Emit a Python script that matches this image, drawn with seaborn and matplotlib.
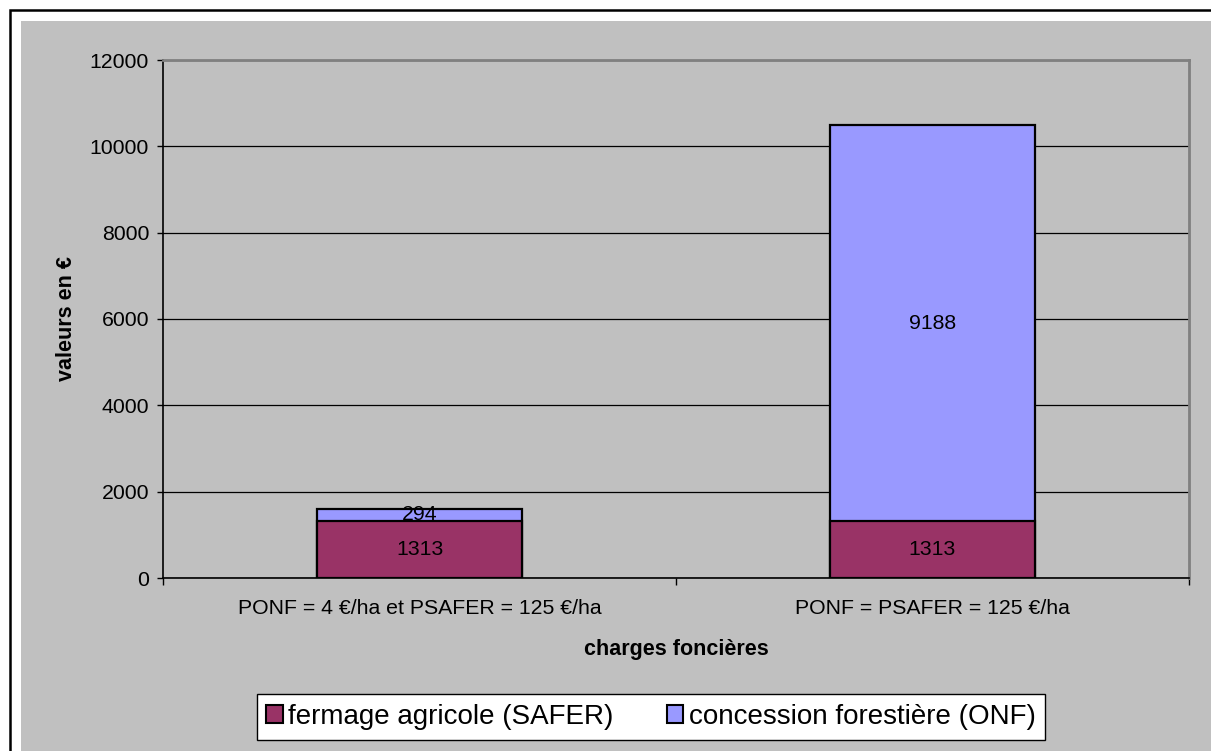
import numpy as np
import pandas as pd
import matplotlib
matplotlib.use("Agg")
import matplotlib.pyplot as plt
import seaborn as sns
from matplotlib.patches import Patch, Rectangle
from matplotlib.ticker import FixedLocator

# donnees
categories = ["PONF = 4 €/ha et PSAFER = 125 €/ha", "PONF = PSAFER = 125 €/ha"]
fermage = [1313, 1313]
concession = [294, 9188]
series_names = ["fermage agricole (SAFER)", "concession forestière (ONF)"]
colors = ["#993366", "#9999FF"]

df = pd.DataFrame({"cat": categories, "fermage": fermage, "concession": concession})
df["total"] = df["fermage"] + df["concession"]

sns.set_style("white")
plt.rcParams["font.family"] = ["Liberation Sans", "DejaVu Sans"]
plt.rcParams["text.color"] = "black"
plt.rcParams["axes.labelcolor"] = "black"
plt.rcParams["xtick.color"] = "black"
plt.rcParams["ytick.color"] = "black"

fig = plt.figure(figsize=(12.11, 7.51), dpi=100)
fig.patch.set_facecolor("white")
W, H = 1211, 751
# cadre noir + fond gris
fig.patches.append(Rectangle((21 / W, 0), 1 - 21 / W, 1 - 21 / H, transform=fig.transFigure,
                             facecolor="#C0C0C0", edgecolor="none", zorder=-10))
fig.patches.append(Rectangle((10 / W, -0.1), 1.2, 1.1 - 10 / H, transform=fig.transFigure,
                             facecolor="none", edgecolor="black", linewidth=1.8, zorder=-9))

ax = fig.add_axes([163 / W, (H - 578) / H, (1189 - 163) / W, (578 - 60) / H])
ax.set_facecolor("#C0C0C0")

sns.barplot(data=df, x="cat", y="total", color=colors[1], edgecolor="black",
            linewidth=1.6, width=0.4, saturation=1, ax=ax, zorder=3)
sns.barplot(data=df, x="cat", y="fermage", color=colors[0], edgecolor="black",
            linewidth=1.6, width=0.4, saturation=1, ax=ax, zorder=4)

for i, row in df.iterrows():
    ax.text(i, row["fermage"] / 2, str(row["fermage"]), ha="center", va="center",
            fontsize=15.3, zorder=5)
    ax.text(i, row["fermage"] + row["concession"] / 2, str(row["concession"]),
            ha="center", va="center", fontsize=15.3, zorder=5)

ax.set_ylim(0, 12000)
ax.set_xlim(-0.5, 1.5)
ax.set_yticks(np.arange(0, 12001, 2000))
ax.yaxis.grid(True, color="black", linewidth=0.9)
ax.set_axisbelow(True)
ax.tick_params(axis="y", length=4, width=1, color="black", pad=6, labelsize=15.3, left=True)
ax.tick_params(axis="x", which="major", length=0, pad=15, labelsize=15.3)
ax.xaxis.set_minor_locator(FixedLocator([-0.5, 0.5, 1.5]))
ax.tick_params(axis="x", which="minor", length=5, width=1, color="black", bottom=True)

for side in ["left", "bottom"]:
    ax.spines[side].set_color("black")
    ax.spines[side].set_linewidth(1.2)
for side in ["top", "right"]:
    ax.spines[side].set_visible(True)
    ax.spines[side].set_color("#808080")
    ax.spines[side].set_linewidth(2)

ax.set_xlabel("charges foncières", fontsize=15.5, fontweight="bold", labelpad=15)
ax.set_ylabel("valeurs en €", fontsize=15.5, fontweight="bold", labelpad=9)

handles = [Patch(facecolor=c, edgecolor="black", linewidth=1.5) for c in colors]
leg = fig.legend(handles, series_names, loc="center", bbox_to_anchor=(651 / W, 1 - 717 / H),
                 ncol=2, fontsize=20, frameon=True, fancybox=False, framealpha=1,
                 handlelength=0.6, handleheight=0.6, handletextpad=0.2,
                 columnspacing=1.9, borderpad=0.35)
leg.get_frame().set_edgecolor("black")
leg.get_frame().set_linewidth(1)
leg.get_frame().set_facecolor("white")

fig.savefig("out.png", dpi=100, facecolor=fig.get_facecolor())
